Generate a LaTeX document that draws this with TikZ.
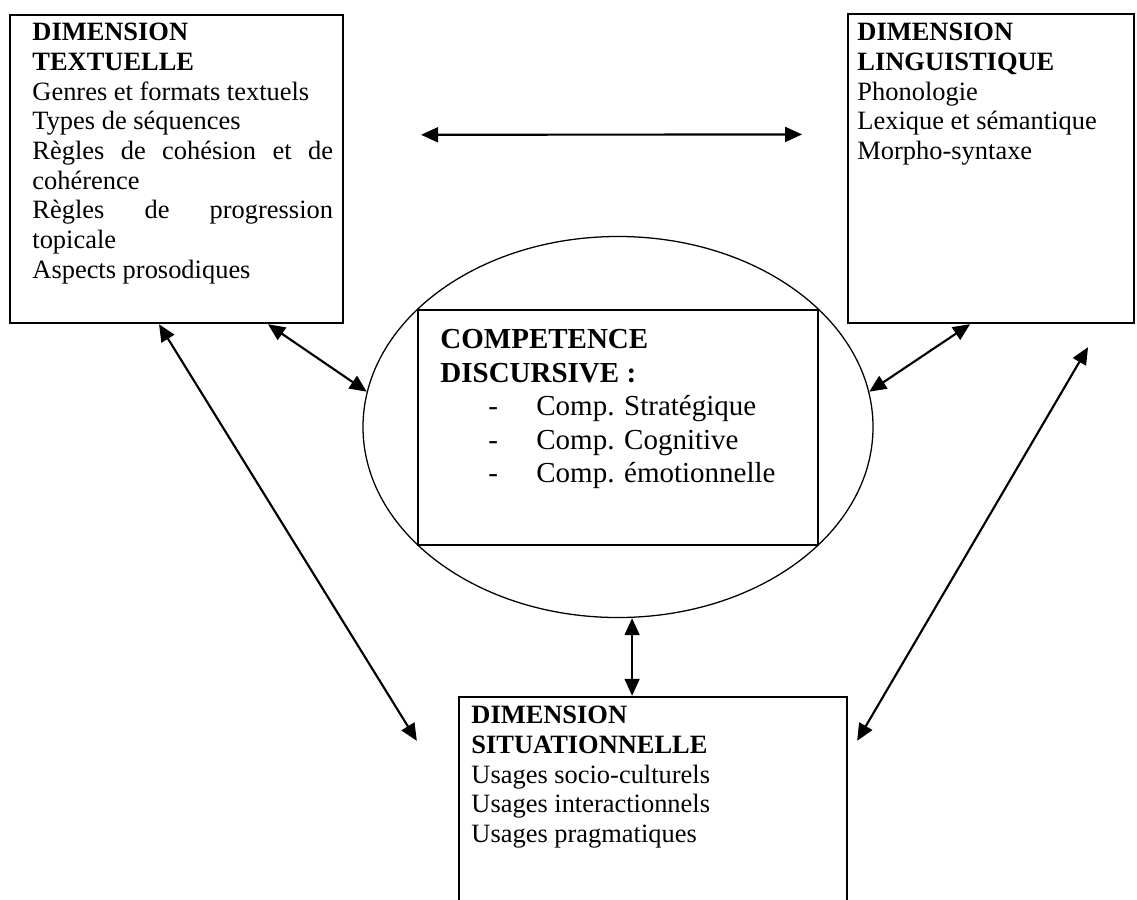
\documentclass[tikz,border=0pt]{standalone}
\usepackage{fontspec}
\setmainfont{Liberation Serif}
\usetikzlibrary{arrows.meta, shapes.geometric}

\tikzstyle{dimbox}=[draw, line width=1.1pt, rectangle, inner sep=0]
\tikzstyle{dimtext}=[inner sep=0, anchor=north west, align=left, font=\fontsize{12.4}{13.9}\selectfont]
\tikzstyle{comptext}=[inner sep=0, anchor=north west, align=left, font=\fontsize{13.6}{15.7}\selectfont]
\tikzstyle{ellnode}=[draw, ellipse, line width=0.6pt, inner sep=0]
\tikzstyle{comprect}=[draw, rectangle, line width=0.8pt, inner sep=0]
\tikzstyle{dimarrow}=[line width=1pt, {Triangle[length=8pt, width=7pt]}-{Triangle[length=8pt, width=7pt]}]
\newcommand{\jline}[1]{\makebox[141pt][s]{#1}}
\newcommand{\compitem}[1]{\makebox[45pt][l]{\hspace*{22.5pt}-}#1}

\begin{document}
\begin{tikzpicture}[x=0.469pt, y=-0.469pt]
  \useasboundingbox (0,0) rectangle (1137,899);
  \clip (0,0) rectangle (1137,899);
  % the three dimensions
  \node[dimbox, minimum width=156.2pt, minimum height=144.5pt] (tex) at (176.5,169) {};
  \node[dimbox, minimum width=134.1pt, minimum height=144.9pt] (lin) at (991,168.5) {};
  \node[dimbox, minimum width=182pt, minimum height=140.7pt] (bot) at (653,847) {};
  \node[dimtext] (textxt) at (32,23) {\textbf{DIMENSION}\\ \textbf{TEXTUELLE}\\
    Genres et formats textuels\\ Types de séquences\\ \jline{Règles de cohésion et de}\\
    cohérence\\ \jline{Règles de progression}\\ topicale\\ Aspects prosodiques};
  \node[dimtext] (lintxt) at (857,23) {\textbf{DIMENSION}\\ \textbf{LINGUISTIQUE}\\
    Phonologie\\ Lexique et sémantique\\ Morpho-syntaxe};
  \node[dimtext] (bottxt) at (471,706) {\textbf{DIMENSION}\\ \textbf{SITUATIONNELLE}\\
    Usages socio-culturels\\ Usages interactionnels\\ Usages pragmatiques};
  % the discursive competence
  \node[ellnode, minimum width=239.2pt, minimum height=178.7pt] (ell) at (618,427) {};
  \node[comprect, minimum width=187.6pt, minimum height=110.2pt] (comp) at (618,427.5) {};
  \node[comptext] (comptxt) at (440,329) {\textbf{COMPETENCE}\\ \textbf{DISCURSIVE :}\\
    \compitem{Comp. Stratégique}\\ \compitem{Comp. Cognitive}\\ \compitem{Comp. émotionnelle}};
  % links
  \draw[dimarrow, shorten <=36pt, shorten >=21pt] ([yshift=16pt]tex.east) -- ([yshift=16pt]lin.west);
  \draw[dimarrow] ([xshift=42.9pt]tex.south) -- (ell.172);
  \draw[dimarrow] ([xshift=-8.2pt]tex.south) -- ([xshift=-19.2pt, yshift=-21.1pt]bot.north west);
  \draw[dimarrow] ([xshift=6.6pt]ell.south) -- ([xshift=6.6pt]ell.south |- bot.north);
  \draw[dimarrow] (ell.8) -- ([xshift=-9.8pt]lin.south);
  \draw[dimarrow] ([xshift=45.5pt, yshift=-10.8pt]lin.south) -- ([xshift=4.2pt, yshift=-21.1pt]bot.north east);
\end{tikzpicture}
\end{document}
